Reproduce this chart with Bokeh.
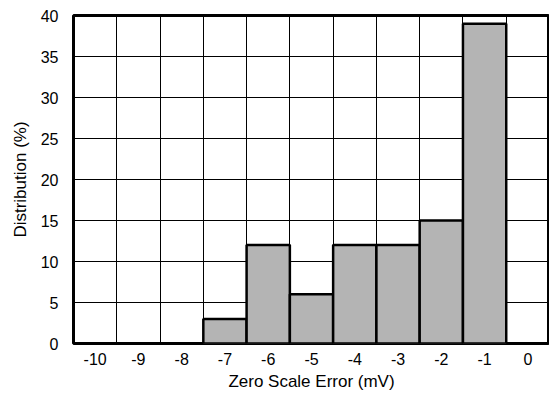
from bokeh.plotting import figure
from bokeh.models import FixedTicker, ColumnDataSource, CustomJSTickFormatter
from bokeh.embed import file_html
from bokeh.resources import INLINE

bins = [-10, -9, -8, -7, -6, -5, -4, -3, -2, -1, 0]
distribution = [0, 0, 0, 3, 12, 6, 12, 12, 15, 39, 0]
x_ticks = [-10, -9, -8, -7, -6, -5, -4, -3, -2, -1, 0]
y_ticks = [0, 5, 10, 15, 20, 25, 30, 35, 40]

src = ColumnDataSource(dict(x=bins, top=distribution))

p = figure(width=549, height=394, x_range=(-10.5, 0.5), y_range=(0, 40),
           output_backend="svg", toolbar_location=None,
           min_border_left=73, min_border_right=0, min_border_top=15, min_border_bottom=51)

p.vbar(x="x", top="top", width=1, bottom=0, source=src,
       fill_color="#b4b4b4", line_color="black", line_width=2.5)

p.xaxis.ticker = FixedTicker(ticks=x_ticks)
p.yaxis.ticker = FixedTicker(ticks=y_ticks)
p.xgrid.ticker = FixedTicker(ticks=[b + 0.5 for b in bins[:-1]])
p.ygrid.ticker = FixedTicker(ticks=y_ticks[1:-1])
for g in (p.xgrid, p.ygrid):
    g.grid_line_color = "black"
    g.grid_line_width = 1
    g.grid_line_alpha = 1

p.outline_line_color = "black"
p.outline_line_width = 3
p.outline_line_alpha = 1

p.xaxis.formatter = CustomJSTickFormatter(code="return String(tick);")
p.yaxis.formatter = CustomJSTickFormatter(code="return String(tick);")

for ax in (p.xaxis, p.yaxis):
    ax.axis_line_color = None
    ax.major_tick_line_color = None
    ax.minor_tick_line_color = None
    ax.major_label_text_font = "Liberation Sans"
    ax.major_label_text_font_size = "16px"
    ax.major_label_text_color = "black"
    ax.axis_label_text_font = "Liberation Sans"
    ax.axis_label_text_font_size = "17px"
    ax.axis_label_text_font_style = "normal"
    ax.axis_label_text_color = "black"

p.xaxis.axis_label = "Zero Scale Error (mV)"
p.yaxis.axis_label = "Distribution (%)"
p.xaxis.major_label_standoff = 3
p.xaxis.axis_label_standoff = 4
p.yaxis.major_label_standoff = 9
p.yaxis.axis_label_standoff = 8

p.background_fill_color = "white"
p.border_fill_color = "white"

open("out.html", "w").write(file_html(p, INLINE))
